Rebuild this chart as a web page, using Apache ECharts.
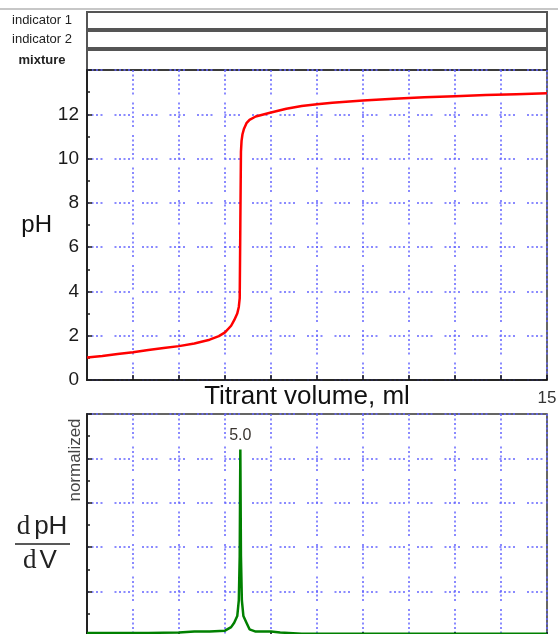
<!DOCTYPE html>
<html>
<head>
<meta charset="utf-8">
<script src="https://cdn.jsdelivr.net/npm/echarts@6/dist/echarts.min.js"></script>
<style>
  html, body { margin: 0; padding: 0; background: #fff; }
  #chart { width: 558px; height: 634px; }
</style>
</head>
<body>
<div id="chart"></div>
<script>
// Titration curve: titrant volume (ml) against pH
const volume = [0, 0.5, 1.0, 1.5, 2.0, 2.5, 3.0, 3.5, 4.0, 4.3, 4.5, 4.7, 4.8, 4.9, 4.95, 4.98,
  5.0, 5.02, 5.04, 5.07, 5.12, 5.2, 5.3, 5.5, 6.0, 6.5, 7.0, 7.5, 8.0, 9.0, 10.0, 11.0, 12.0, 13.0, 14.0, 15.0];
const pH = [1.02, 1.08, 1.17, 1.25, 1.35, 1.44, 1.53, 1.65, 1.82, 1.98, 2.15, 2.45, 2.7, 3.0, 3.3, 3.7,
  7.0, 10.3, 10.8, 11.1, 11.35, 11.6, 11.75, 11.9, 12.08, 12.25, 12.37, 12.45, 12.52, 12.62, 12.7, 12.77, 12.82, 12.87, 12.91, 12.95];

// First derivative dpH/dV (normalized scale)
const derivVolume = [0, 1, 2, 3, 3.5, 4.0, 4.5, 4.7, 4.8, 4.9, 4.95, 4.98, 5.0, 5.02, 5.05, 5.1, 5.2, 5.3, 5.5, 6.0, 6.3, 7.0, 9.0, 12.0, 15.0];
const derivValue  = [0.07, 0.07, 0.07, 0.08, 0.1, 0.1, 0.12, 0.2, 0.3, 0.45, 0.8, 1.8, 4.2, 1.8, 0.8, 0.45, 0.3, 0.15, 0.1, 0.1, 0.08, 0.05, 0.05, 0.05, 0.05];

// Indicator strips above the curve
const stripLabels = ['indicator 1', 'indicator 2', 'mixture'];

// Axis ranges and tick steps
const volumeRange = [0, 15];
const volumeStep = 1.5;
const pHRange = [0, 14];
const pHStep = 2;
const derivRange = [0, 5];

const gridDotsH = [2, 2.5, 2, 2.5, 2, 2.5, 2, 12];
const gridDotsV = [2, 2.5, 2, 2.5, 2, 2.5, 2, 2.5, 2, 2.5, 2, 8];
const dotColor = '#6464ff';
const frameColor = '#333';

const chart = echarts.init(document.getElementById('chart'), null, { renderer: 'canvas' });

const stripTops = [12, 31, 50];
const stripHeights = [17, 17, 20];

const grids = stripTops.map((t, i) => ({
  left: 87, width: 460, top: t, height: stripHeights[i],
  show: true, backgroundColor: '#fff', borderColor: '#555', borderWidth: 2,
  containLabel: false, outerBoundsMode: 'none'
}));
grids.push({ left: 87, width: 460, top: 70, height: 310, show: true, borderColor: frameColor, borderWidth: 1.5, containLabel: false, outerBoundsMode: 'none' });
grids.push({ left: 87, width: 460, top: 414, height: 222, show: true, borderColor: frameColor, borderWidth: 1.5, containLabel: false, outerBoundsMode: 'none' });

const xAxes = stripLabels.map((_, i) => ({ type: 'value', gridIndex: i, show: false, min: volumeRange[0], max: volumeRange[1] }));
const yAxes = stripLabels.map((label, i) => ({
  type: 'category', gridIndex: i, data: [label],
  axisLine: { show: false }, axisTick: { show: false }, splitLine: { show: false },
  axisLabel: {
    align: 'center', margin: 45, fontSize: 13, color: '#222',
    fontFamily: 'Liberation Sans', fontWeight: i === 2 ? 'bold' : 'normal'
  }
}));

// Main pH panel
xAxes.push({
  type: 'value', gridIndex: 3, min: volumeRange[0], max: volumeRange[1], interval: volumeStep,
  name: 'Titrant volume, ml', nameLocation: 'middle', nameGap: 4, nameMoveOverlap: false,
  nameTextStyle: { fontSize: 26, color: '#111', fontFamily: 'Liberation Sans', padding: [0, 20, 0, 0] },
  axisLine: { show: true, lineStyle: { color: '#111', width: 1.5 } },
  axisTick: { show: true, inside: true, length: 5, lineStyle: { color: '#111', width: 1.5 } },
  axisLabel: {
    show: true, margin: 10, fontSize: 17, color: '#333', fontFamily: 'Liberation Sans',
    showMinLabel: false, showMaxLabel: true,
    formatter: v => (v === volumeRange[1] ? String(v) : '')
  },
  splitLine: { show: true, lineStyle: { color: dotColor, width: 1.5, type: gridDotsV } }
});
yAxes.push({
  type: 'value', gridIndex: 3, min: pHRange[0], max: pHRange[1], interval: pHStep,
  name: 'pH', nameLocation: 'middle', nameRotate: 0, nameGap: 32,
  nameTextStyle: { fontSize: 24, color: '#111', fontFamily: 'Liberation Sans' },
  axisLine: { show: true, lineStyle: { color: '#222', width: 2 } },
  axisTick: { show: true, inside: true, length: 5, lineStyle: { color: '#222', width: 1.5 } },
  minorTick: { show: true, splitNumber: 2, length: 3, lineStyle: { color: '#222', width: 1.5 } },
  axisLabel: { margin: 8, fontSize: 19, color: '#1a1a1a', fontFamily: 'Liberation Sans', showMaxLabel: false },
  splitLine: { show: true, lineStyle: { color: dotColor, width: 1.5, type: gridDotsH } }
});

// Derivative panel
xAxes.push({
  type: 'value', gridIndex: 4, min: volumeRange[0], max: volumeRange[1], interval: volumeStep * 2,
  axisLine: { show: true, lineStyle: { color: '#111', width: 1.5 } },
  axisTick: { show: true, inside: true, length: 4, lineStyle: { color: '#111', width: 1.5 } },
  axisLabel: { show: false },
  splitLine: { show: true, lineStyle: { color: dotColor, width: 1.5, type: gridDotsV } },
  minorTick: { show: false, splitNumber: 2 },
  minorSplitLine: { show: true, lineStyle: { color: dotColor, width: 1.5, type: gridDotsV } }
});
yAxes.push({
  type: 'value', gridIndex: 4, min: derivRange[0], max: derivRange[1], interval: 1,
  axisLine: { show: true, lineStyle: { color: '#222', width: 2 } },
  axisTick: { show: true, inside: true, length: 5, lineStyle: { color: '#222', width: 1.5 } },
  minorTick: { show: true, splitNumber: 2, length: 3, lineStyle: { color: '#222', width: 1.5 } },
  axisLabel: { show: false },
  splitLine: { show: true, lineStyle: { color: dotColor, width: 1.5, type: gridDotsH } }
});

// The peak point carries an invisible symbol so its volume label can be drawn
const peakIndex = derivValue.indexOf(Math.max(...derivValue));
const derivData = derivVolume.map((v, i) => {
  const item = { value: [v, derivValue[i]] };
  if (i === peakIndex) {
    item.symbol = 'circle';
    item.symbolSize = 2;
    item.itemStyle = { color: 'rgba(0,0,0,0)', borderWidth: 0 };
    item.label = {
      show: true, position: 'top', distance: 5,
      fontSize: 16, color: '#3a3530', fontFamily: 'Liberation Sans',
      formatter: p => p.value[0].toFixed(1)
    };
  }
  return item;
});

const option = {
  backgroundColor: '#fff',
  animation: false,
  grid: grids,
  xAxis: xAxes,
  yAxis: yAxes,
  series: [
    {
      type: 'line', xAxisIndex: 3, yAxisIndex: 3,
      data: volume.map((v, i) => [v, pH[i]]),
      showSymbol: false, symbol: 'none',
      lineStyle: { color: '#ff0000', width: 2.5 }
    },
    {
      type: 'line', xAxisIndex: 4, yAxisIndex: 4,
      data: derivData,
      showSymbol: true, showAllSymbol: true, symbol: 'none',
      lineStyle: { color: '#008000', width: 2.5 }
    }
  ],
  graphic: [
    { type: 'line', shape: { x1: 0, y1: 9, x2: 558, y2: 9 }, style: { stroke: '#b4b4b4', lineWidth: 1.5 } },
    {
      type: 'text', x: 75, y: 460, rotation: Math.PI / 2,
      style: { text: 'normalized', fontSize: 17, fill: '#444', fontFamily: 'Liberation Sans', align: 'center', verticalAlign: 'middle' }
    },
    {
      type: 'text', x: 42, y: 527,
      style: {
        text: '{d|d}{s|pH}', align: 'center', verticalAlign: 'middle',
        rich: {
          d: { fontSize: 27, fontFamily: 'Liberation Serif', fill: '#222', padding: [0, 4, 0, 0] },
          s: { fontSize: 26, fontFamily: 'Liberation Sans', fill: '#222' }
        }
      }
    },
    { type: 'line', shape: { x1: 15, y1: 544, x2: 70, y2: 544 }, style: { stroke: '#222', lineWidth: 1.5 } },
    {
      type: 'text', x: 40, y: 561,
      style: {
        text: '{d|d}{s|V}', align: 'center', verticalAlign: 'middle',
        rich: {
          d: { fontSize: 27, fontFamily: 'Liberation Serif', fill: '#222', padding: [0, 3, 0, 0] },
          s: { fontSize: 26, fontFamily: 'Liberation Sans', fill: '#222' }
        }
      }
    }
  ]
};

chart.setOption(option);
</script>
</body>
</html>
